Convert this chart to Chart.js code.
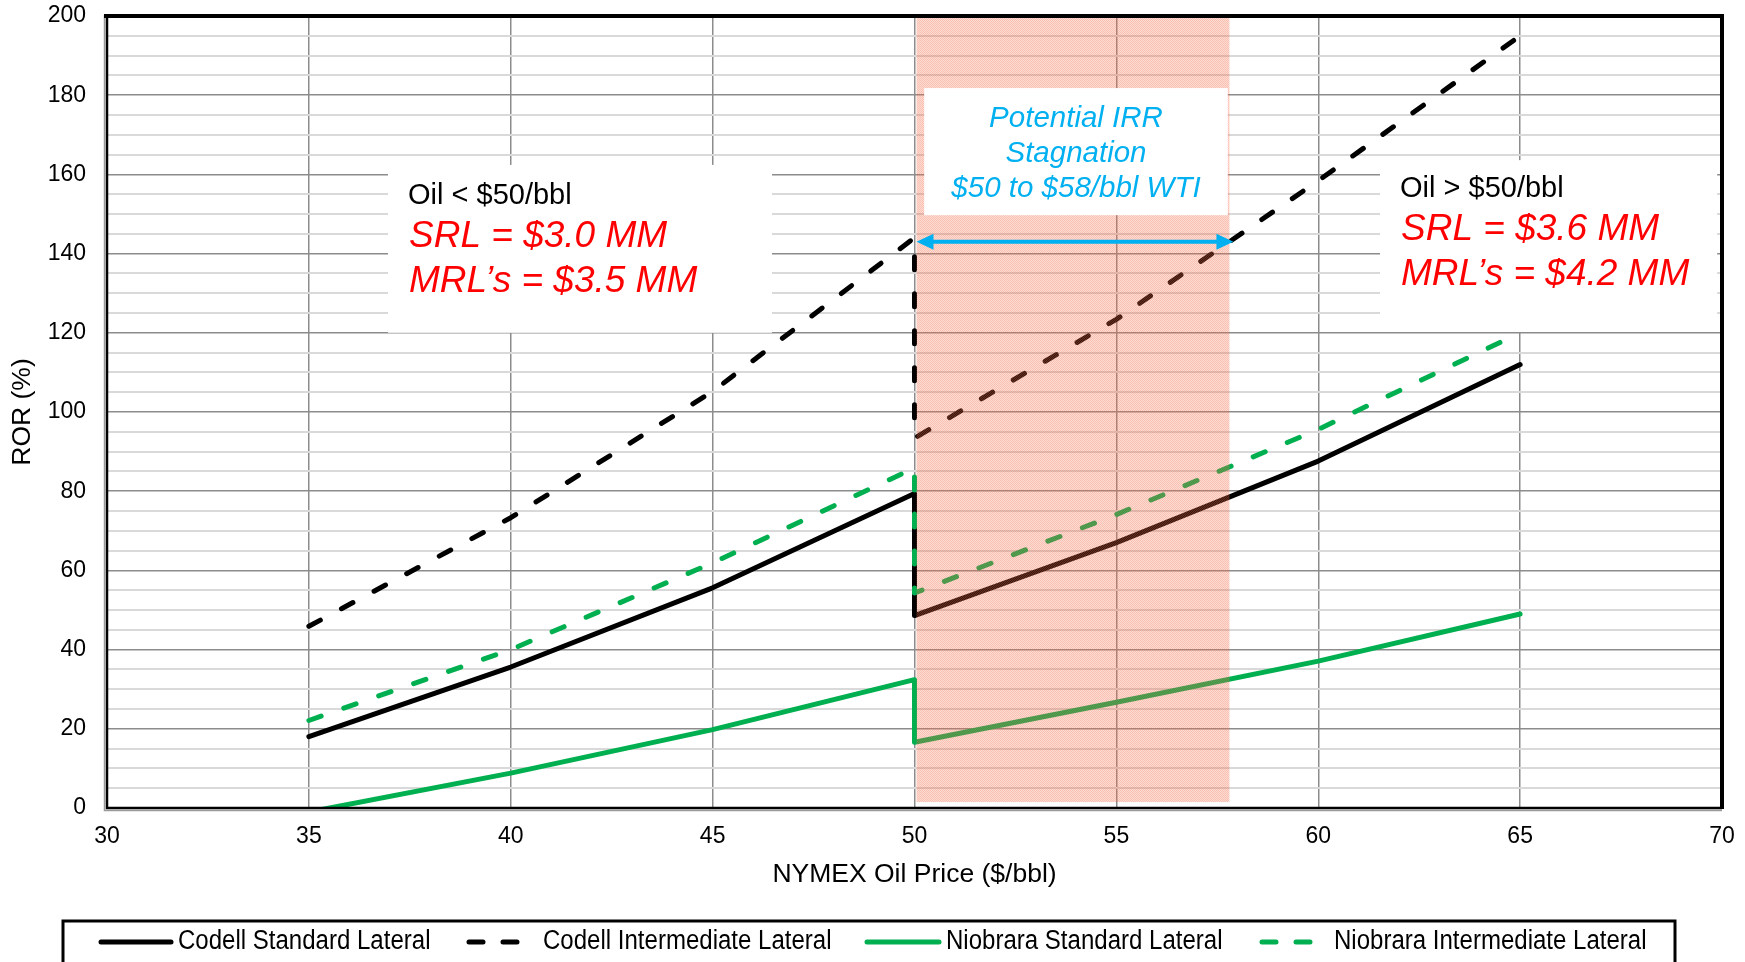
<!DOCTYPE html>
<html>
<head>
<meta charset="utf-8">
<script src="https://cdn.jsdelivr.net/npm/chart.js@4.4.1/dist/chart.umd.min.js"></script>
<style>
  html, body { margin: 0; padding: 0; background: #ffffff; }
  #wrap { width: 1745px; height: 962px; position: relative; }
</style>
</head>
<body>
<div id="wrap"><canvas id="c" width="1745" height="962"></canvas></div>
<script>
// Oil price points ($/bbl): two cost regimes that meet at $50
const priceBelow50 = [35, 40, 45, 50];
const priceAbove50 = [50, 55, 60, 65];

// Rate of return (%) for each lateral type
const codellStandardBelow = [18, 35.6, 55.6, 79.4];
const codellStandardAbove = [48.6, 67, 87.6, 112];
const codellIntermediateBelow = [45.9, 73.3, 105.2, 144];
const codellIntermediateAbove = [93.4, 123.4, 158.4, 195];
const niobraraStandardBelow = [-1, 8.8, 19.8, 32.4];
const niobraraStandardAbove = [16.6, 26.7, 37.1, 49];
const niobraraIntermediateBelow = [22.1, 40, 61.9, 85.9];
const niobraraIntermediateAbove = [54.3, 74.1, 95.6, 120];

const seriesNames = [
  'Codell Standard Lateral',
  'Codell Intermediate Lateral',
  'Niobrara Standard Lateral',
  'Niobrara Intermediate Lateral'
];

// Axis ranges
const xMin = 30, xMax = 70, xStep = 5;
const yMin = 0, yMax = 200, yMajor = 20, yMinor = 5;

// Stagnation band and the price it spans
const stagnationStart = 50.05;
const stagnationEnd = 57.8;
const stagnationBottom = 1.5;
const arrowLevel = 143;

const BLACK = '#000000';
const GREEN = '#00b050';
const CYAN = '#00b0f0';
const RED = '#ff0000';
const FONT = '"Liberation Sans", Arial, sans-serif';
const DASH = [13, 24];

function joinRegimes(lowX, lowY, highX, highY) {
  const pts = lowX.map((x, i) => ({ x: x, y: lowY[i] }));
  return pts.concat(highX.map((x, i) => ({ x: x, y: highY[i] })));
}

function lineDataset(label, color, dashed, low, high, order) {
  return {
    label: label,
    data: joinRegimes(priceBelow50, low, priceAbove50, high),
    borderColor: color,
    backgroundColor: color,
    borderWidth: 5,
    borderDash: dashed ? DASH : [],
    borderCapStyle: 'round',
    borderJoinStyle: 'round',
    pointRadius: 0,
    pointHoverRadius: 0,
    tension: 0,
    fill: false,
    order: order
  };
}

const datasets = [
  lineDataset(seriesNames[0], BLACK, false, codellStandardBelow, codellStandardAbove, 3),
  lineDataset(seriesNames[1], BLACK, true, codellIntermediateBelow, codellIntermediateAbove, 2),
  lineDataset(seriesNames[2], GREEN, false, niobraraStandardBelow, niobraraStandardAbove, 1),
  lineDataset(seriesNames[3], GREEN, true, niobraraIntermediateBelow, niobraraIntermediateAbove, 0)
];

// Fine checkered pink texture for the stagnation band
function makeShadePattern(ctx) {
  const p = document.createElement('canvas');
  p.width = 2; p.height = 2;
  const pc = p.getContext('2d');
  pc.fillStyle = 'rgba(242,105,72,0.42)';
  pc.fillRect(0, 0, 1, 1); pc.fillRect(1, 1, 1, 1);
  pc.fillStyle = 'rgba(242,105,72,0.24)';
  pc.fillRect(1, 0, 1, 1); pc.fillRect(0, 1, 1, 1);
  return ctx.createPattern(p, 'repeat');
}

function whiteBox(ctx, xs, ys, x0, x1, y0, y1) {
  const l = xs.getPixelForValue(x0), r = xs.getPixelForValue(x1);
  const t = ys.getPixelForValue(y0), b = ys.getPixelForValue(y1);
  ctx.fillStyle = '#ffffff';
  ctx.fillRect(l, t, r - l, b - t);
  return { l: l, r: r, t: t, b: b };
}

function drawArrowHead(ctx, x, y, dir) {
  ctx.beginPath();
  ctx.moveTo(x, y);
  ctx.lineTo(x - dir * 17, y - 8);
  ctx.lineTo(x - dir * 17, y + 8);
  ctx.closePath();
  ctx.fill();
}

// Legend item anchors: where each line sample and its text begin
const legendSampleX = [101, 465, 867, 1258];
const legendTextX = [178, 543, 946, 1334];

const overlayPlugin = {
  id: 'overlays',
  afterDatasetsDraw(chart) {
    const ctx = chart.ctx;
    const xs = chart.scales.x, ys = chart.scales.y;

    // stagnation band, laid over the lines
    const sl = xs.getPixelForValue(stagnationStart);
    const sr = xs.getPixelForValue(stagnationEnd);
    const st = ys.getPixelForValue(yMax);
    const sb = ys.getPixelForValue(stagnationBottom);
    ctx.save();
    ctx.fillStyle = makeShadePattern(ctx);
    ctx.fillRect(sl, st, sr - sl, sb - st);
    ctx.restore();

    ctx.save();
    ctx.textBaseline = 'alphabetic';

    // left note: below $50
    let b = whiteBox(ctx, xs, ys, 36.96, 46.47, 162.4, 120.0);
    ctx.textAlign = 'left';
    ctx.fillStyle = BLACK;
    ctx.font = '29px ' + FONT;
    ctx.fillText('Oil < $50/bbl', b.l + 20, b.t + 39);
    ctx.fillStyle = RED;
    ctx.font = 'italic 37px ' + FONT;
    ctx.fillText('SRL = $3.0 MM', b.l + 21, b.t + 82);
    ctx.fillText('MRL\u2019s = $3.5 MM', b.l + 21, b.t + 127);

    // middle note: stagnation
    b = whiteBox(ctx, xs, ys, 50.24, 57.76, 181.8, 149.7);
    const cx = (b.l + b.r) / 2;
    ctx.textAlign = 'center';
    ctx.fillStyle = CYAN;
    ctx.font = 'italic 29.5px ' + FONT;
    ctx.fillText('Potential IRR', cx, b.t + 39);
    ctx.fillText('Stagnation', cx, b.t + 74);
    ctx.fillText('$50 to $58/bbl WTI', cx, b.t + 109);

    // right note: above $50
    b = whiteBox(ctx, xs, ys, 61.53, 69.88, 163.6, 120.2);
    ctx.textAlign = 'left';
    ctx.fillStyle = BLACK;
    ctx.font = '29px ' + FONT;
    ctx.fillText('Oil > $50/bbl', b.l + 20, b.t + 37);
    ctx.fillStyle = RED;
    ctx.font = 'italic 37px ' + FONT;
    ctx.fillText('SRL = $3.6 MM', b.l + 21, b.t + 80);
    ctx.fillText('MRL\u2019s = $4.2 MM', b.l + 21, b.t + 125);

    // double-headed arrow across the band
    const ay = ys.getPixelForValue(arrowLevel);
    const ax0 = xs.getPixelForValue(50) + 2;
    const ax1 = xs.getPixelForValue(stagnationEnd) + 4;
    ctx.strokeStyle = CYAN;
    ctx.fillStyle = CYAN;
    ctx.lineWidth = 4;
    ctx.beginPath();
    ctx.moveTo(ax0 + 12, ay);
    ctx.lineTo(ax1 - 12, ay);
    ctx.stroke();
    drawArrowHead(ctx, ax0, ay, -1);
    drawArrowHead(ctx, ax1, ay, 1);
    ctx.restore();
  },
  afterDraw(chart) {
    const ctx = chart.ctx;
    const a = chart.chartArea;
    ctx.save();
    // plot frame
    ctx.lineCap = 'butt';
    ctx.strokeStyle = '#9a9a9a';
    ctx.lineWidth = 1.5;
    ctx.beginPath();
    ctx.moveTo(a.left - 2.5, a.top - 1); ctx.lineTo(a.left - 2.5, a.bottom + 2.5);
    ctx.lineTo(a.right, a.bottom + 2.5);
    ctx.stroke();
    ctx.strokeStyle = BLACK;
    ctx.lineWidth = 2.5;
    ctx.beginPath();
    ctx.moveTo(a.left, a.top); ctx.lineTo(a.left, a.bottom); ctx.lineTo(a.right, a.bottom);
    ctx.stroke();
    ctx.lineWidth = 4;
    ctx.beginPath();
    ctx.moveTo(a.left - 3, a.top); ctx.lineTo(a.right, a.top); ctx.lineTo(a.right, a.bottom + 1);
    ctx.stroke();

    // legend box along the bottom
    const lx0 = 63, lx1 = 1675, ly0 = 921;
    ctx.lineWidth = 3;
    ctx.strokeRect(lx0, ly0, lx1 - lx0, 60);

    const ly = 942;
    chart.data.datasets.forEach((ds, i) => {
      const x = legendSampleX[i];
      ctx.save();
      ctx.strokeStyle = ds.borderColor;
      ctx.lineWidth = 5;
      ctx.lineCap = 'round';
      ctx.beginPath();
      if (ds.borderDash.length) {
        ctx.moveTo(x + 4, ly); ctx.lineTo(x + 18, ly);
        ctx.moveTo(x + 38, ly); ctx.lineTo(x + 52, ly);
      } else {
        ctx.moveTo(x, ly); ctx.lineTo(legendTextX[i] - 7, ly);
      }
      ctx.stroke();
      ctx.restore();
      ctx.save();
      ctx.fillStyle = BLACK;
      ctx.font = '27px ' + FONT;
      ctx.textAlign = 'left';
      ctx.textBaseline = 'middle';
      ctx.translate(legendTextX[i], ly);
      ctx.scale(0.89, 1);
      ctx.fillText(ds.label, 0, 0);
      ctx.restore();
    });
    ctx.restore();
  }
};

const tickFont = { family: FONT, size: 23 };
const titleFont = { family: FONT, size: 26.5 };

new Chart(document.getElementById('c'), {
  type: 'line',
  data: { datasets: datasets },
  options: {
    responsive: false,
    animation: false,
    devicePixelRatio: 1,
    layout: { padding: { top: 16, right: 23, left: 0, bottom: 67 } },
    plugins: { legend: { display: false }, tooltip: { enabled: false } },
    scales: {
      x: {
        type: 'linear',
        min: xMin, max: xMax,
        afterFit: s => { s.height = 87; s.paddingLeft = 0; s.paddingRight = 0; },
        ticks: { stepSize: xStep, color: BLACK, font: tickFont, padding: 15, maxRotation: 0 },
        grid: { color: '#8c8c8c', lineWidth: 1.5, drawTicks: false },
        border: { display: false },
        title: { display: true, text: 'NYMEX Oil Price ($/bbl)', color: BLACK, font: titleFont, padding: { top: 0, bottom: 4 } }
      },
      y: {
        type: 'linear',
        min: yMin, max: yMax,
        afterFit: s => { s.width = 107; s.paddingTop = 0; s.paddingBottom = 0; },
        ticks: {
          stepSize: yMinor, autoSkip: false, color: BLACK, font: tickFont, padding: 21,
          callback: v => (v % yMajor === 0 ? String(v) : '')
        },
        grid: {
          color: c => (c.tick && c.tick.value % yMajor === 0 ? '#8c8c8c' : '#d9d9d9'),
          lineWidth: c => (c.tick && c.tick.value % yMajor === 0 ? 1.5 : 2),
          drawTicks: false
        },
        border: { display: false },
        title: { display: true, text: 'ROR (%)', color: BLACK, font: titleFont, padding: { top: 7, bottom: 0 } }
      }
    }
  },
  plugins: [overlayPlugin]
});
</script>
</body>
</html>
